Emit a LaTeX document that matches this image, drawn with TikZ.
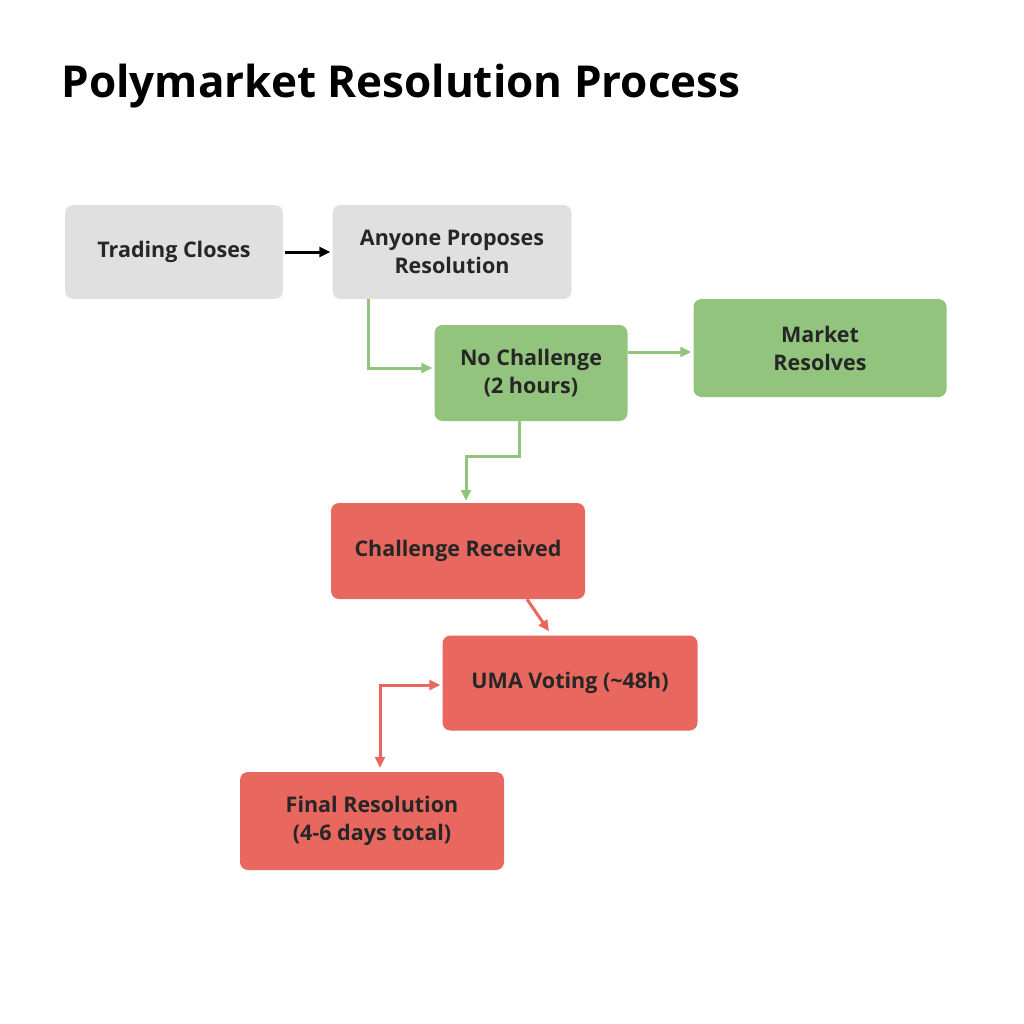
\documentclass[tikz,border=0pt]{standalone}
\usepackage{fontspec}
\setmainfont{Open Sans}
\usetikzlibrary{arrows.meta}
\definecolor{boxgray}{HTML}{E0E0E0}
\definecolor{boxgreen}{HTML}{93C47D}
\definecolor{boxred}{HTML}{E8675E}
\tikzset{
  flowbox/.style={rounded corners=8pt, align=center, font=\fontsize{21.5}{28}\selectfont\bfseries, text=black!85},
  grayflow/.style={flowbox, fill=boxgray},
  greenflow/.style={flowbox, fill=boxgreen},
  redflow/.style={flowbox, fill=boxred},
  link/.style={line width=3pt, -{Triangle[length=11pt,width=10pt]}}
}
\begin{document}
\begin{tikzpicture}[x=1pt, y=-1pt]
        \useasboundingbox (0,0) rectangle (1024,1024);
        % Title
        \node[anchor=west, font=\fontsize{44}{50}\selectfont\bfseries] (title) at (58,86) {Polymarket Resolution Process};

        % Boxes
        \node[grayflow, minimum width=218pt, minimum height=94pt] (trading) at (174,252) {Trading Closes};
        \node[grayflow, minimum width=239pt, minimum height=94pt] (propose) at (452,252) {Anyone Proposes\\Resolution};
        \node[greenflow, minimum width=193pt, minimum height=96pt] (nochal) at (531,373) {No Challenge\\(2 hours)};
        \node[greenflow, minimum width=253pt, minimum height=98pt] (market) at (820,348) {Market\\Resolves};
        \node[redflow, minimum width=254pt, minimum height=96pt] (chal) at (458,551) {Challenge Received};
        \node[redflow, minimum width=255pt, minimum height=95pt] (uma) at (570,683) {UMA Voting (\textasciitilde48h)};
        \node[redflow, minimum width=264pt, minimum height=98pt] (final) at (372,821) {Final Resolution\\(4-6 days total)};

        % Connectors
        \draw[link, black] ([xshift=2pt]trading.east) -- ([xshift=-2pt]propose.west);
        \draw[link, boxgreen] ([xshift=-84pt]propose.south) |- ([yshift=5pt,xshift=-2pt]nochal.west);
        \draw[link, boxgreen] ([yshift=21pt]nochal.east) -- ([yshift=-4pt,xshift=-2pt]market.west);
        \draw[link, boxgreen] ([xshift=-12pt]nochal.south) -- ++(0,35) -| ([xshift=8pt,yshift=2pt]chal.north);
        \draw[link, boxred] ([xshift=69pt]chal.south) -- ([xshift=-21pt,yshift=4pt]uma.north);
        \draw[link, boxred, {Triangle[length=11pt,width=10pt]}-{Triangle[length=11pt,width=10pt]}] ([xshift=8pt,yshift=4pt]final.north) |- ([xshift=-2pt,yshift=-2pt]uma.west);
\end{tikzpicture}
\end{document}
